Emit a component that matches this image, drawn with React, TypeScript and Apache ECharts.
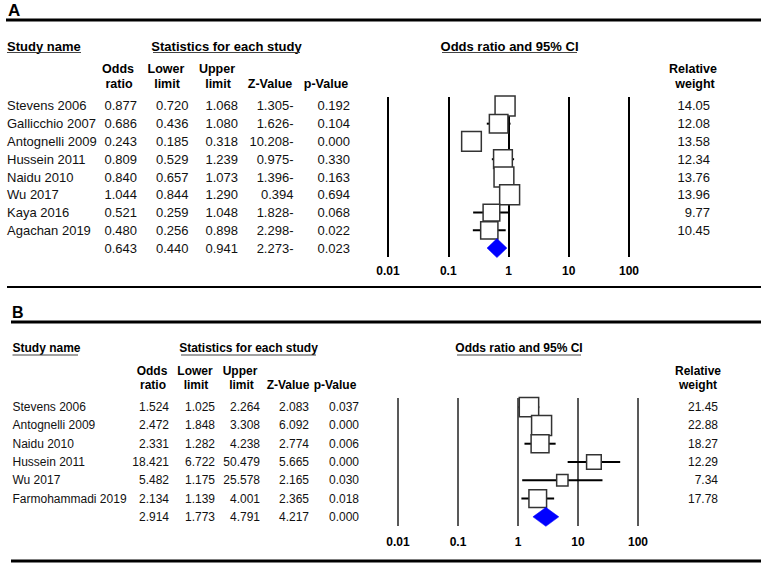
import React, { useEffect, useRef } from "react";
import * as echarts from "echarts";

const FONT = "'Liberation Sans', Arial, Helvetica, sans-serif";

// ---------- Panel A ----------
const aStudies = ["Stevens 2006", "Gallicchio 2007", "Antognelli 2009", "Hussein 2011", "Naidu 2010", "Wu 2017", "Kaya 2016", "Agachan 2019", ""];
const aOddsRatio = [0.877, 0.686, 0.243, 0.809, 0.84, 1.044, 0.521, 0.48, 0.643];
const aLower = [0.72, 0.436, 0.185, 0.529, 0.657, 0.844, 0.259, 0.256, 0.44];
const aUpper = [1.068, 1.08, 0.318, 1.239, 1.073, 1.29, 1.048, 0.898, 0.941];
const aZValue = ["1.305-", "1.626-", "10.208-", "0.975-", "1.396-", "0.394", "1.828-", "2.298-", "2.273-"];
const aPValue = ["0.192", "0.104", "0.000", "0.330", "0.163", "0.694", "0.068", "0.022", "0.023"];
const aWeight = [14.05, 12.08, 13.58, 12.34, 13.76, 13.96, 9.77, 10.45];

// ---------- Panel B ----------
const bStudies = ["Stevens 2006", "Antognelli 2009", "Naidu 2010", "Hussein 2011", "Wu 2017", "Farmohammadi 2019", ""];
const bOddsRatio = [1.524, 2.472, 2.331, 18.421, 5.482, 2.134, 2.914];
const bLower = [1.025, 1.848, 1.282, 6.722, 1.175, 1.139, 1.773];
const bUpper = [2.264, 3.308, 4.238, 50.479, 25.578, 4.001, 4.791];
const bZValue = ["2.083", "6.092", "2.774", "5.665", "2.165", "2.365", "4.217"];
const bPValue = ["0.037", "0.000", "0.006", "0.000", "0.030", "0.018", "0.000"];
const bWeight = [21.45, 22.88, 18.27, 12.29, 7.34, 17.78];

const xMin = 0.01;
const xMax = 100;

type Cols = { name: number; or: number; lo: number; up: number; z: number; p: number; w: number };

function tableSeries(gi: number, names: string[], or: number[], lo: number[], up: number[], z: string[], p: string[], w: number[], cols: Cols, fontSize: number) {
  return {
    type: "custom",
    xAxisIndex: gi,
    yAxisIndex: gi,
    silent: true,
    z: 5,
    data: names.map((_, i) => [1, i]),
    renderItem: (params: any, api: any) => {
      const i = params.dataIndex;
      const y = api.coord([1, api.value(1)])[1];
      const t = (text: string, x: number, align: string) => ({
        type: "text",
        x,
        y,
        style: { text, fill: "#111", fontSize, fontFamily: FONT, align, verticalAlign: "middle" },
      });
      const children: any[] = [
        t(names[i], cols.name, "left"),
        t(or[i].toFixed(3), cols.or, "right"),
        t(lo[i].toFixed(3), cols.lo, "right"),
        t(up[i].toFixed(3), cols.up, "right"),
        t(z[i], cols.z, "right"),
        t(p[i], cols.p, "right"),
      ];
      if (i < w.length) children.push(t(w[i].toFixed(2), cols.w, "right"));
      return { type: "group", children };
    },
  };
}

function forestSeries(gi: number, or: number[], lo: number[], up: number[], w: number[], maxSize: number, lineW: number) {
  const maxW = Math.max(...w);
  return {
    type: "custom",
    xAxisIndex: gi,
    yAxisIndex: gi,
    silent: true,
    z: 4,
    data: w.map((wt, i) => [or[i], lo[i], up[i], i, wt]),
    encode: { x: [0, 1, 2], y: 3 },
    renderItem: (params: any, api: any) => {
      const row = api.value(3);
      const c = api.coord([api.value(0), row]);
      const l = api.coord([api.value(1), row]);
      const u = api.coord([api.value(2), row]);
      const s = maxSize * Math.sqrt(api.value(4) / maxW);
      return {
        type: "group",
        children: [
          { type: "line", shape: { x1: l[0], y1: l[1], x2: u[0], y2: u[1] }, style: { stroke: "#000", lineWidth: lineW } },
          { type: "rect", shape: { x: c[0] - s / 2, y: c[1] - s / 2, width: s, height: s }, style: { fill: "#fff", stroke: "#333", lineWidth: 1.5 } },
        ],
      };
    },
  };
}

function diamondSeries(gi: number, or: number[], lo: number[], up: number[], halfH: number) {
  const idx = or.length - 1;
  return {
    type: "custom",
    xAxisIndex: gi,
    yAxisIndex: gi,
    silent: true,
    z: 4,
    data: [[or[idx], lo[idx], up[idx], idx]],
    encode: { x: [0, 1, 2], y: 3 },
    renderItem: (params: any, api: any) => {
      const row = api.value(3);
      const c = api.coord([api.value(0), row]);
      const l = api.coord([api.value(1), row]);
      const u = api.coord([api.value(2), row]);
      return {
        type: "polygon",
        shape: { points: [[l[0], c[1]], [c[0], c[1] - halfH], [u[0], c[1]], [c[0], c[1] + halfH]] },
        style: { fill: "#0000ff", stroke: "#0000ff", lineWidth: 0.5 },
      };
    },
  };
}

function txt(text: string, x: number, y: number, size: number, align = "left", bold = true) {
  return {
    type: "text",
    x,
    y,
    silent: true,
    style: { text, fill: "#000", fontSize: size, fontWeight: bold ? "bold" : "normal", fontFamily: FONT, align, verticalAlign: "middle" },
  };
}

function hline(x1: number, x2: number, y: number, w: number, color = "#000") {
  return { type: "line", silent: true, shape: { x1, y1: y, x2, y2: y }, style: { stroke: color, lineWidth: w } };
}

function xAxisCfg(gi: number, lineW: number, color: string, margin: number) {
  return {
    type: "log",
    logBase: 10,
    gridIndex: gi,
    min: xMin,
    max: xMax,
    axisLine: { show: false },
    axisTick: { show: false },
    splitLine: { show: true, lineStyle: { color, width: lineW } },
    axisLabel: {
      color: "#000",
      fontWeight: "bold",
      fontSize: 12,
      fontFamily: FONT,
      margin,
      formatter: (v: number) => String(+Number(v).toPrecision(3)),
    },
  };
}

export default function App() {
  const ref = useRef<HTMLDivElement>(null);
  useEffect(() => {
    if (!ref.current) return;
    const chart = echarts.init(ref.current, undefined, { renderer: "svg" });
    const graphic: any[] = [
      // Panel A
      txt("A", 8, 10, 17),
      hline(6, 761, 20, 3),
      txt("Study name", 7, 46, 13),
      hline(7, 81, 52.5, 1, "#444"),
      txt("Statistics for each study", 226.5, 46, 13, "center"),
      hline(153, 300, 52.5, 1, "#444"),
      txt("Odds ratio and 95% CI", 509.5, 46, 13, "center"),
      hline(442, 577, 52.5, 1, "#444"),
      txt("Odds", 118, 69, 12.5, "center"),
      txt("ratio", 119, 83.5, 12.5, "center"),
      txt("Lower", 166, 69, 12.5, "center"),
      txt("limit", 167, 83.5, 12.5, "center"),
      txt("Upper", 217, 69, 12.5, "center"),
      txt("limit", 218, 83.5, 12.5, "center"),
      txt("Z-Value", 270, 83.5, 12.5, "center"),
      txt("p-Value", 326, 83.5, 12.5, "center"),
      txt("Relative", 693, 69, 12.5, "center"),
      txt("weight", 695, 83.5, 12.5, "center"),
      hline(7, 761, 287, 2),
      // Panel B
      txt("B", 12, 312, 16),
      hline(11, 761, 322, 3),
      txt("Study name", 12.5, 348, 12),
      hline(12.5, 78, 355, 1, "#444"),
      txt("Statistics for each study", 248.5, 348, 12, "center"),
      hline(181, 316, 355, 1, "#444"),
      txt("Odds ratio and 95% CI", 519, 348, 12, "center"),
      hline(457, 581, 355, 1, "#444"),
      txt("Odds", 152, 371, 12, "center"),
      txt("ratio", 153, 385, 12, "center"),
      txt("Lower", 195, 371, 12, "center"),
      txt("limit", 196, 385, 12, "center"),
      txt("Upper", 240, 371, 12, "center"),
      txt("limit", 241.5, 385, 12, "center"),
      txt("Z-Value", 288, 385, 12, "center"),
      txt("p-Value", 335, 385, 12, "center"),
      txt("Relative", 698, 371, 12, "center"),
      txt("weight", 698, 385, 12, "center"),
      hline(11, 761, 561, 3),
    ];

    chart.setOption({
      animation: false,
      backgroundColor: "#fff",
      textStyle: { fontFamily: FONT },
      grid: [
        { left: 388, top: 97, width: 241, height: 160 },
        { left: 398, top: 398, width: 240, height: 128 },
      ],
      xAxis: [xAxisCfg(0, 2, "#000", 8), xAxisCfg(1, 1.5, "#222", 10)],
      yAxis: [
        { type: "value", gridIndex: 0, min: -0.5, max: aStudies.length - 0.5, inverse: true, show: false },
        { type: "value", gridIndex: 1, min: -0.5, max: bStudies.length - 0.5, inverse: true, show: false },
      ],
      graphic,
      series: [
        tableSeries(0, aStudies, aOddsRatio, aLower, aUpper, aZValue, aPValue, aWeight, { name: 7, or: 137, lo: 188.5, up: 238, z: 293.5, p: 350, w: 710 }, 13),
        forestSeries(0, aOddsRatio, aLower, aUpper, aWeight, 20, 2),
        diamondSeries(0, aOddsRatio, aLower, aUpper, 9.5),
        tableSeries(1, bStudies, bOddsRatio, bLower, bUpper, bZValue, bPValue, bWeight, { name: 12.5, or: 169, lo: 215, up: 260, z: 309, p: 359, w: 718 }, 12),
        forestSeries(1, bOddsRatio, bLower, bUpper, bWeight, 20, 2),
        diamondSeries(1, bOddsRatio, bLower, bUpper, 9.5),
      ],
    });
    return () => chart.dispose();
  }, []);
  return <div ref={ref} style={{ position: "absolute", left: 0, top: 0, width: 761, height: 565 }} />;
}
